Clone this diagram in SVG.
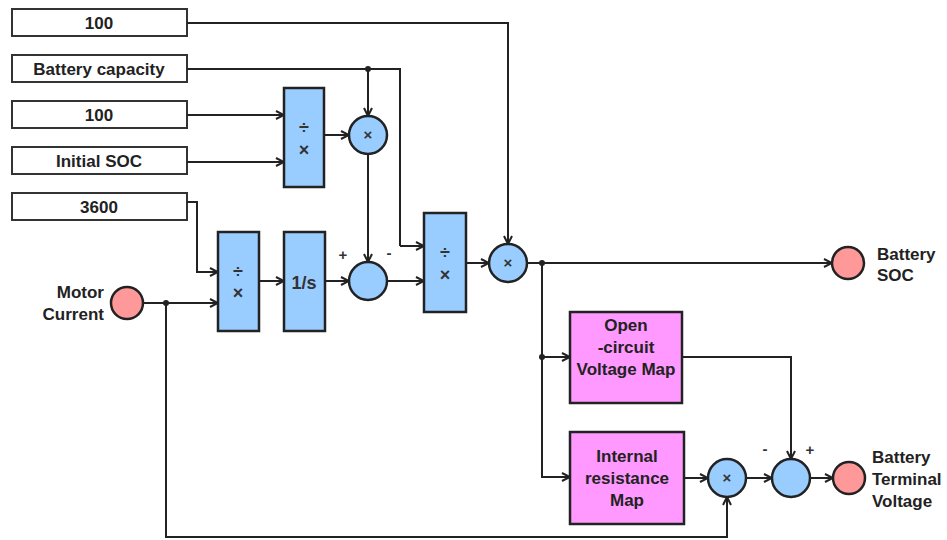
<svg xmlns="http://www.w3.org/2000/svg" width="947" height="540" viewBox="0 0 947 540">
<defs>
<marker id="arr" viewBox="0 0 10 10" refX="9" refY="5" markerWidth="10" markerHeight="10" markerUnits="userSpaceOnUse" orient="auto">
<path d="M1,1 L9,5 L1,9" fill="none" stroke="#222" stroke-width="2"/>
</marker>
</defs>
<style>
.box{fill:#fff;stroke:#333;stroke-width:2}
.blk{fill:#99ccff;stroke:#222;stroke-width:2.5}
.map{fill:#ff99ff;stroke:#222;stroke-width:2.5}
.port{fill:#ff9999;stroke:#222;stroke-width:2.5}
.op{fill:#99ccff;stroke:#222;stroke-width:2.5}
text{font-family:"Liberation Sans",Arial,sans-serif;font-weight:bold;fill:#222}
.t{font-size:17px;text-anchor:middle}
.s{font-size:18px;text-anchor:middle;fill:#333}
.c{font-size:15px;text-anchor:middle;fill:#333}
.lbl{font-size:17px}
.w{fill:none;stroke:#222;stroke-width:2}
.a{fill:none;stroke:#222;stroke-width:2;marker-end:url(#arr)}
</style>
<g id="c100a"><rect class="box" x="12" y="9" width="175" height="27"/><text class="t" x="99" y="29">100</text></g>
<g id="cbat"><rect class="box" x="12" y="55" width="175" height="27"/><text class="t" x="99" y="75">Battery capacity</text></g>
<g id="c100b"><rect class="box" x="12" y="101" width="175" height="27"/><text class="t" x="99" y="121">100</text></g>
<g id="csoc"><rect class="box" x="12" y="147" width="175" height="27"/><text class="t" x="99" y="167">Initial SOC</text></g>
<g id="c3600"><rect class="box" x="12" y="193" width="175" height="27"/><text class="t" x="99" y="213">3600</text></g>
<g id="div1"><rect class="blk" x="284" y="88" width="40" height="99"/><text class="s" x="304" y="134">÷</text><text class="s" x="304" y="156">×</text></g>
<g id="mul1"><circle class="op" cx="368" cy="135" r="19"/><text class="c" x="368" y="140">×</text></g>
<g id="div2"><rect class="blk" x="218" y="232" width="41" height="99"/><text class="s" x="238" y="278">÷</text><text class="s" x="238" y="299">×</text></g>
<g id="integ"><rect class="blk" x="284" y="232" width="41" height="99"/><text class="s" x="304" y="289">1/s</text></g>
<g id="sum1"><circle class="op" cx="368" cy="281" r="19"/><text class="c" x="343" y="260">+</text><text class="c" x="389" y="258">-</text></g>
<g id="div3"><rect class="blk" x="424" y="213" width="42" height="99"/><text class="s" x="445" y="259">÷</text><text class="s" x="445" y="281">×</text></g>
<g id="mul2"><circle class="op" cx="508" cy="263" r="19"/><text class="c" x="508" y="268">×</text></g>
<g id="motor"><circle class="port" cx="127" cy="303" r="16"/><text class="lbl" x="104" y="298" text-anchor="end">Motor</text><text class="lbl" x="104" y="320" text-anchor="end">Current</text></g>
<g id="bsoc"><circle class="port" cx="848" cy="263" r="16"/><text class="lbl" x="877" y="260">Battery</text><text class="lbl" x="877" y="281">SOC</text></g>
<g id="ocv"><rect class="map" x="570" y="312" width="112" height="91"/><text class="t" x="626" y="331">Open</text><text class="t" x="626" y="353">-circuit</text><text class="t" x="626" y="375">Voltage Map</text></g>
<g id="irm"><rect class="map" x="570" y="432" width="114" height="92"/><text class="t" x="627" y="462">Internal</text><text class="t" x="627" y="484">resistance</text><text class="t" x="627" y="506">Map</text></g>
<g id="mul3"><circle class="op" cx="727" cy="478" r="19"/><text class="c" x="727" y="483">×</text></g>
<g id="sum2"><circle class="op" cx="791" cy="478" r="19"/><text class="c" x="765" y="454">-</text><text class="c" x="810" y="455">+</text></g>
<g id="btv"><circle class="port" cx="849" cy="478" r="16"/><text class="lbl" x="872" y="463">Battery</text><text class="lbl" x="872" y="485">Terminal</text><text class="lbl" x="872" y="507">Voltage</text></g>
<g id="connectors">
<path class="a" d="M187,23 H508 V244"/>
<path class="w" d="M187,69 H400 V246"/>
<path class="a" d="M368,69 V116"/>
<path class="a" d="M400,246 H424"/>
<path class="a" d="M187,115 H284"/>
<path class="a" d="M187,162 H284"/>
<path class="a" d="M324,135 H349"/>
<path class="a" d="M368,154 V262"/>
<path class="a" d="M187,202 H197 V272 H218"/>
<path class="a" d="M143,303 H218"/>
<path class="a" d="M259,281 H284"/>
<path class="a" d="M325,281 H349"/>
<path class="a" d="M387,281 H424"/>
<path class="a" d="M466,263 H489"/>
<path class="a" d="M527,263 H832"/>
<path class="a" d="M542,263 V477 H570"/>
<path class="a" d="M542,357 H570"/>
<path class="a" d="M682,357 H791 V459"/>
<path class="a" d="M684,478 H708"/>
<path class="a" d="M746,478 H772"/>
<path class="a" d="M810,478 H833"/>
<path class="a" d="M166,303 V537 H727 V497"/>
<circle cx="368" cy="69" r="3" fill="#222"/>
<circle cx="166" cy="303" r="3" fill="#222"/>
<circle cx="542" cy="263" r="3" fill="#222"/>
<circle cx="542" cy="357" r="3" fill="#222"/>
</g>
</svg>
